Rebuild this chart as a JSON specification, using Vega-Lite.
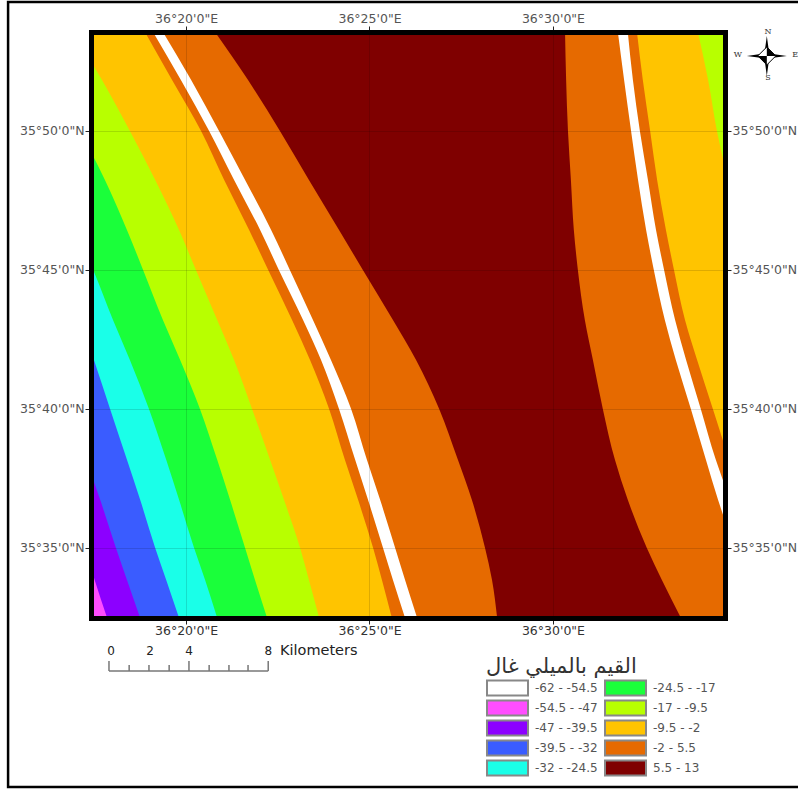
{"$schema":"https://vega.github.io/schema/vega-lite/v6.json","width":634,"height":586,"autosize":{"type":"none"},"padding":{"left":91,"top":32,"right":73,"bottom":171},"background":"white","config":{"view":{"stroke":null},"font":"DejaVu Sans"},
"datasets":{"bands":[
{"cls":"-54.5 - -47","seg":"a","lat":35,"lon":16},{"cls":"-54.5 - -47","seg":"a","lat":32.48,"lon":16},
{"cls":"-47 - -39.5","seg":"b","lat":38.17,"lon":16.46},{"cls":"-47 - -39.5","seg":"b","lat":36.73,"lon":16.81},{"cls":"-47 - -39.5","seg":"b","lat":35,"lon":17.25},{"cls":"-47 - -39.5","seg":"b","lat":33.85,"lon":17.51},{"cls":"-47 - -39.5","seg":"b","lat":32.48,"lon":17.85},
{"cls":"-39.5 - -32","seg":"c","lat":43.2,"lon":15.97},{"cls":"-39.5 - -32","seg":"c","lat":41.76,"lon":16.35},{"cls":"-39.5 - -32","seg":"c","lat":40,"lon":16.81},{"cls":"-39.5 - -32","seg":"c","lat":38.17,"lon":17.28},{"cls":"-39.5 - -32","seg":"c","lat":36.73,"lon":17.66},{"cls":"-39.5 - -32","seg":"c","lat":35,"lon":18.09},{"cls":"-39.5 - -32","seg":"c","lat":33.85,"lon":18.39},{"cls":"-39.5 - -32","seg":"c","lat":32.48,"lon":18.75},
{"cls":"-32 - -24.5","seg":"d","lat":46.44,"lon":16.27},{"cls":"-32 - -24.5","seg":"d","lat":45,"lon":16.65},{"cls":"-32 - -24.5","seg":"d","lat":43.2,"lon":17.11},{"cls":"-32 - -24.5","seg":"d","lat":41.76,"lon":17.49},{"cls":"-32 - -24.5","seg":"d","lat":40,"lon":17.93},{"cls":"-32 - -24.5","seg":"d","lat":38.17,"lon":18.39},{"cls":"-32 - -24.5","seg":"d","lat":36.73,"lon":18.75},{"cls":"-32 - -24.5","seg":"d","lat":35,"lon":19.16},{"cls":"-32 - -24.5","seg":"d","lat":33.85,"lon":19.46},{"cls":"-32 - -24.5","seg":"d","lat":32.48,"lon":19.81},
{"cls":"-24.5 - -17","seg":"e","lat":50,"lon":15.61},{"cls":"-24.5 - -17","seg":"e","lat":48.24,"lon":16.29},{"cls":"-24.5 - -17","seg":"e","lat":46.44,"lon":16.98},{"cls":"-24.5 - -17","seg":"e","lat":45,"lon":17.47},{"cls":"-24.5 - -17","seg":"e","lat":43.2,"lon":18.01},{"cls":"-24.5 - -17","seg":"e","lat":41.76,"lon":18.47},{"cls":"-24.5 - -17","seg":"e","lat":40,"lon":18.99},{"cls":"-24.5 - -17","seg":"e","lat":38.17,"lon":19.46},{"cls":"-24.5 - -17","seg":"e","lat":36.73,"lon":19.81},{"cls":"-24.5 - -17","seg":"e","lat":35,"lon":20.22},{"cls":"-24.5 - -17","seg":"e","lat":33.85,"lon":20.52},{"cls":"-24.5 - -17","seg":"e","lat":32.48,"lon":20.85},
{"cls":"-17 - -9.5","seg":"f","lat":53.56,"lon":15.61},{"cls":"-17 - -9.5","seg":"f","lat":51.83,"lon":16.35},{"cls":"-17 - -9.5","seg":"f","lat":50,"lon":17.11},{"cls":"-17 - -9.5","seg":"f","lat":48.24,"lon":17.79},{"cls":"-17 - -9.5","seg":"f","lat":46.44,"lon":18.39},{"cls":"-17 - -9.5","seg":"f","lat":45,"lon":18.83},{"cls":"-17 - -9.5","seg":"f","lat":43.2,"lon":19.37},{"cls":"-17 - -9.5","seg":"f","lat":41.76,"lon":19.84},{"cls":"-17 - -9.5","seg":"f","lat":40,"lon":20.38},{"cls":"-17 - -9.5","seg":"f","lat":38.17,"lon":20.85},{"cls":"-17 - -9.5","seg":"f","lat":36.73,"lon":21.2},{"cls":"-17 - -9.5","seg":"f","lat":35,"lon":21.61},{"cls":"-17 - -9.5","seg":"f","lat":33.85,"lon":21.88},{"cls":"-17 - -9.5","seg":"f","lat":32.48,"lon":22.21},
{"cls":"-9.5 - -2","seg":"g","lat":53.56,"lon":16.92},{"cls":"-9.5 - -2","seg":"g","lat":51.83,"lon":17.71},{"cls":"-9.5 - -2","seg":"g","lat":50,"lon":18.47},{"cls":"-9.5 - -2","seg":"g","lat":48.24,"lon":19.16},{"cls":"-9.5 - -2","seg":"g","lat":46.44,"lon":19.81},{"cls":"-9.5 - -2","seg":"g","lat":45,"lon":20.27},{"cls":"-9.5 - -2","seg":"g","lat":43.2,"lon":20.85},{"cls":"-9.5 - -2","seg":"g","lat":41.76,"lon":21.31},{"cls":"-9.5 - -2","seg":"g","lat":40,"lon":21.8},{"cls":"-9.5 - -2","seg":"g","lat":38.17,"lon":22.29},{"cls":"-9.5 - -2","seg":"g","lat":36.73,"lon":22.67},{"cls":"-9.5 - -2","seg":"g","lat":35,"lon":23.11},{"cls":"-9.5 - -2","seg":"g","lat":33.85,"lon":23.35},{"cls":"-9.5 - -2","seg":"g","lat":32.48,"lon":23.63},
{"cls":"-2 - 5.5","seg":"h","lat":53.56,"lon":18.88},{"cls":"-2 - 5.5","seg":"h","lat":51.83,"lon":19.62},{"cls":"-2 - 5.5","seg":"h","lat":50,"lon":20.41},{"cls":"-2 - 5.5","seg":"h","lat":48.24,"lon":21.04},{"cls":"-2 - 5.5","seg":"h","lat":46.44,"lon":21.72},{"cls":"-2 - 5.5","seg":"h","lat":45,"lon":22.24},{"cls":"-2 - 5.5","seg":"h","lat":43.2,"lon":22.89},{"cls":"-2 - 5.5","seg":"h","lat":41.76,"lon":23.38},{"cls":"-2 - 5.5","seg":"h","lat":40,"lon":23.9},{"cls":"-2 - 5.5","seg":"h","lat":38.17,"lon":24.33},{"cls":"-2 - 5.5","seg":"h","lat":36.73,"lon":24.69},{"cls":"-2 - 5.5","seg":"h","lat":35,"lon":25.1},{"cls":"-2 - 5.5","seg":"h","lat":33.85,"lon":25.34},{"cls":"-2 - 5.5","seg":"h","lat":32.48,"lon":25.61},
{"cls":"-62 - -54.5","seg":"i","lat":53.56,"lon":19.1},{"cls":"-62 - -54.5","seg":"i","lat":51.83,"lon":19.86},{"cls":"-62 - -54.5","seg":"i","lat":50,"lon":20.63},{"cls":"-62 - -54.5","seg":"i","lat":48.24,"lon":21.31},{"cls":"-62 - -54.5","seg":"i","lat":46.44,"lon":22.02},{"cls":"-62 - -54.5","seg":"i","lat":45,"lon":22.53},{"cls":"-62 - -54.5","seg":"i","lat":43.2,"lon":23.19},{"cls":"-62 - -54.5","seg":"i","lat":41.76,"lon":23.68},{"cls":"-62 - -54.5","seg":"i","lat":40,"lon":24.17},{"cls":"-62 - -54.5","seg":"i","lat":38.17,"lon":24.61},{"cls":"-62 - -54.5","seg":"i","lat":36.73,"lon":24.96},{"cls":"-62 - -54.5","seg":"i","lat":35,"lon":25.37},{"cls":"-62 - -54.5","seg":"i","lat":33.85,"lon":25.64},{"cls":"-62 - -54.5","seg":"i","lat":32.48,"lon":25.97},
{"cls":"-2 - 5.5","seg":"j","lat":53.56,"lon":19.37},{"cls":"-2 - 5.5","seg":"j","lat":51.83,"lon":20.14},{"cls":"-2 - 5.5","seg":"j","lat":50,"lon":20.9},{"cls":"-2 - 5.5","seg":"j","lat":48.24,"lon":21.61},{"cls":"-2 - 5.5","seg":"j","lat":46.44,"lon":22.32},{"cls":"-2 - 5.5","seg":"j","lat":45,"lon":22.83},{"cls":"-2 - 5.5","seg":"j","lat":43.2,"lon":23.46},{"cls":"-2 - 5.5","seg":"j","lat":41.76,"lon":23.95},{"cls":"-2 - 5.5","seg":"j","lat":40,"lon":24.5},{"cls":"-2 - 5.5","seg":"j","lat":38.17,"lon":24.93},{"cls":"-2 - 5.5","seg":"j","lat":36.73,"lon":25.29},{"cls":"-2 - 5.5","seg":"j","lat":35,"lon":25.7},{"cls":"-2 - 5.5","seg":"j","lat":33.85,"lon":25.97},{"cls":"-2 - 5.5","seg":"j","lat":32.48,"lon":26.3},
{"cls":"5.5 - 13","seg":"k","lat":53.56,"lon":20.79},{"cls":"5.5 - 13","seg":"k","lat":51.83,"lon":21.69},{"cls":"5.5 - 13","seg":"k","lat":50,"lon":22.56},{"cls":"5.5 - 13","seg":"k","lat":48.24,"lon":23.35},{"cls":"5.5 - 13","seg":"k","lat":46.44,"lon":24.17},{"cls":"5.5 - 13","seg":"k","lat":45,"lon":24.82},{"cls":"5.5 - 13","seg":"k","lat":43.2,"lon":25.64},{"cls":"5.5 - 13","seg":"k","lat":41.76,"lon":26.27},{"cls":"5.5 - 13","seg":"k","lat":40,"lon":26.9},{"cls":"5.5 - 13","seg":"k","lat":38.17,"lon":27.41},{"cls":"5.5 - 13","seg":"k","lat":36.73,"lon":27.79},{"cls":"5.5 - 13","seg":"k","lat":35,"lon":28.15},{"cls":"5.5 - 13","seg":"k","lat":33.85,"lon":28.34},{"cls":"5.5 - 13","seg":"k","lat":32.48,"lon":28.48},
{"cls":"-2 - 5.5","seg":"l","lat":53.56,"lon":30.33},{"cls":"-2 - 5.5","seg":"l","lat":51.83,"lon":30.36},{"cls":"-2 - 5.5","seg":"l","lat":50,"lon":30.41},{"cls":"-2 - 5.5","seg":"l","lat":48.24,"lon":30.49},{"cls":"-2 - 5.5","seg":"l","lat":46.44,"lon":30.57},{"cls":"-2 - 5.5","seg":"l","lat":45,"lon":30.68},{"cls":"-2 - 5.5","seg":"l","lat":43.2,"lon":30.87},{"cls":"-2 - 5.5","seg":"l","lat":41.76,"lon":31.09},{"cls":"-2 - 5.5","seg":"l","lat":40,"lon":31.36},{"cls":"-2 - 5.5","seg":"l","lat":38.17,"lon":31.69},{"cls":"-2 - 5.5","seg":"l","lat":36.73,"lon":32.04},{"cls":"-2 - 5.5","seg":"l","lat":35,"lon":32.56},{"cls":"-2 - 5.5","seg":"l","lat":33.85,"lon":32.97},{"cls":"-2 - 5.5","seg":"l","lat":32.48,"lon":33.49},
{"cls":"-62 - -54.5","seg":"m","lat":53.56,"lon":31.77},{"cls":"-62 - -54.5","seg":"m","lat":51.83,"lon":31.94},{"cls":"-62 - -54.5","seg":"m","lat":50,"lon":32.13},{"cls":"-62 - -54.5","seg":"m","lat":48.24,"lon":32.32},{"cls":"-62 - -54.5","seg":"m","lat":46.44,"lon":32.54},{"cls":"-62 - -54.5","seg":"m","lat":45,"lon":32.75},{"cls":"-62 - -54.5","seg":"m","lat":43.2,"lon":33.05},{"cls":"-62 - -54.5","seg":"m","lat":41.76,"lon":33.35},{"cls":"-62 - -54.5","seg":"m","lat":40,"lon":33.76},{"cls":"-62 - -54.5","seg":"m","lat":38.17,"lon":34.17},{"cls":"-62 - -54.5","seg":"m","lat":36.73,"lon":34.5},{"cls":"-62 - -54.5","seg":"m","lat":35,"lon":34.96},
{"cls":"-2 - 5.5","seg":"n","lat":53.56,"lon":32.04},{"cls":"-2 - 5.5","seg":"n","lat":51.83,"lon":32.18},{"cls":"-2 - 5.5","seg":"n","lat":50,"lon":32.37},{"cls":"-2 - 5.5","seg":"n","lat":48.24,"lon":32.59},{"cls":"-2 - 5.5","seg":"n","lat":46.44,"lon":32.81},{"cls":"-2 - 5.5","seg":"n","lat":45,"lon":33.03},{"cls":"-2 - 5.5","seg":"n","lat":43.2,"lon":33.33},{"cls":"-2 - 5.5","seg":"n","lat":41.76,"lon":33.63},{"cls":"-2 - 5.5","seg":"n","lat":40,"lon":34.03},{"cls":"-2 - 5.5","seg":"n","lat":38.17,"lon":34.44},{"cls":"-2 - 5.5","seg":"n","lat":36.73,"lon":34.83},
{"cls":"-9.5 - -2","seg":"o","lat":53.56,"lon":32.29},{"cls":"-9.5 - -2","seg":"o","lat":51.83,"lon":32.45},{"cls":"-9.5 - -2","seg":"o","lat":50,"lon":32.65},{"cls":"-9.5 - -2","seg":"o","lat":48.24,"lon":32.84},{"cls":"-9.5 - -2","seg":"o","lat":46.44,"lon":33.08},{"cls":"-9.5 - -2","seg":"o","lat":45,"lon":33.3},{"cls":"-9.5 - -2","seg":"o","lat":43.2,"lon":33.6},{"cls":"-9.5 - -2","seg":"o","lat":41.76,"lon":33.93},{"cls":"-9.5 - -2","seg":"o","lat":40,"lon":34.36},{"cls":"-9.5 - -2","seg":"o","lat":38.17,"lon":34.8},
{"cls":"-17 - -9.5","seg":"p","lat":53.56,"lon":33.95},{"cls":"-17 - -9.5","seg":"p","lat":51.83,"lon":34.23},{"cls":"-17 - -9.5","seg":"p","lat":50,"lon":34.47},{"cls":"-17 - -9.5","seg":"p","lat":48.24,"lon":34.77}
],
"ticks":[{"lon":20,"lat":40}],
"scaleLine":[{"lon":17.9,"lon2":22.24,"lat":30.57}],
"scaleTicks":[{"lon":17.9,"top":30.93},{"lon":18.45,"top":30.79},{"lon":18.99,"top":30.79},{"lon":19.54,"top":30.79},{"lon":20.08,"top":30.93},{"lon":20.63,"top":30.79},{"lon":21.17,"top":30.79},{"lon":21.69,"top":30.79},{"lon":22.24,"top":30.93}],
"scaleText":[{"lon":17.96,"lat":31.29,"t":"0"},{"lon":19.02,"lat":31.29,"t":"2"},{"lon":20.08,"lat":31.29,"t":"4"},{"lon":22.24,"lat":31.29,"t":"8"}],
"compassText":[{"lon":35.86,"lat":53.56,"t":"N"},{"lon":35.86,"lat":51.9,"t":"S"},{"lon":35.04,"lat":52.73,"t":"W"},{"lon":36.6,"lat":52.73,"t":"E"}]
},
"layer":[
{"data":{"name":"bands"},"mark":{"type":"area","orient":"horizontal","clip":true,"interpolate":"monotone","opacity":1},
"encoding":{
"y":{"field":"lat","type":"quantitative","scale":{"domain":[32.48,53.56],"nice":false,"zero":false},"title":null,"axis":{"orient":"left","values":[35,40,45,50],"labelExpr":"'35°'+datum.value+\"'0\\\"N\"","grid":true,"gridColor":"#000","gridOpacity":0.13,"domain":true,"domainColor":"#000","domainWidth":5,"domainCap":"square","ticks":true,"tickColor":"#222","tickSize":6,"labelFont":"DejaVu Sans","labelFontSize":12.5,"labelColor":"#555","labelPadding":1,"zindex":1}},
"x":{"field":"lon","type":"quantitative","scale":{"domain":[17.41,34.69],"nice":false,"zero":false},"title":null,"axis":{"orient":"bottom","values":[20,25,30],"labelExpr":"'36°'+datum.value+\"'0\\\"E\"","grid":true,"gridColor":"#000","gridOpacity":0.13,"domain":true,"domainColor":"#000","domainWidth":5,"domainCap":"square","ticks":true,"tickColor":"#222","tickSize":6,"labelFont":"DejaVu Sans","labelFontSize":12.5,"labelColor":"#333","labelPadding":0,"zindex":1}},
"x2":{"datum":37},
"detail":{"field":"seg"},
"color":{"field":"cls","type":"nominal","scale":{"domain":["-62 - -54.5","-54.5 - -47","-47 - -39.5","-39.5 - -32","-32 - -24.5","-24.5 - -17","-17 - -9.5","-9.5 - -2","-2 - 5.5","5.5 - 13"],"range":["#ffffff","#ff4dff","#8c00ff","#3a5cff","#1affe8","#1aff3a","#b8ff00","#ffc400","#e66a00","#7f0000"]},
"legend":{"orient":"none","legendX":395,"legendY":624,"direction":"vertical","columns":2,"title":"القيم بالميلي غال","titleFont":"DejaVu Sans","titleFontSize":21,"titleFontWeight":"normal","titleColor":"#333","titleAnchor":"start","titlePadding":1,"symbolType":"M-1,-0.37H1V0.37H-1Z","symbolSize":1681,"clipHeight":20,"symbolStrokeColor":"#888","symbolStrokeWidth":2,"symbolOpacity":1,"labelFont":"DejaVu Sans","labelFontSize":12,"labelColor":"#555","labelOffset":6,"columnPadding":6,"rowPadding":0,"labelLimit":90}}
}},
{"data":{"name":"ticks"},"mark":{"type":"point","opacity":0},
"encoding":{
"x":{"field":"lon","type":"quantitative","scale":{"domain":[17.41,34.69],"nice":false,"zero":false},"title":null,"axis":{"orient":"top","values":[20,25,30],"labelExpr":"'36°'+datum.value+\"'0\\\"E\"","grid":false,"domain":true,"domainColor":"#000","domainWidth":5,"domainCap":"square","tickColor":"#222","tickSize":6,"labelFont":"DejaVu Sans","labelFontSize":12.5,"labelColor":"#555","labelPadding":1,"zindex":1}},
"y":{"field":"lat","type":"quantitative","scale":{"domain":[32.48,53.56],"nice":false,"zero":false},"title":null,"axis":{"orient":"right","values":[35,40,45,50],"labelExpr":"'35°'+datum.value+\"'0\\\"N\"","grid":false,"domain":true,"domainColor":"#000","domainWidth":5,"domainCap":"square","tickColor":"#222","tickSize":6,"labelFont":"DejaVu Sans","labelFontSize":12.5,"labelColor":"#555","labelPadding":1,"zindex":1}}
}},
{"data":{"values":[{"x":15.15,"x2":37,"y":54.64,"y2":26.4}]},"mark":{"type":"rect","fill":null,"fillOpacity":0,"stroke":"#000","strokeWidth":2.5},
"encoding":{"x":{"field":"x","type":"quantitative","axis":null,"scale":{"domain":[17.41,34.69],"nice":false,"zero":false}},"x2":{"field":"x2"},"y":{"field":"y","type":"quantitative","axis":null,"scale":{"domain":[32.48,53.56],"nice":false,"zero":false}},"y2":{"field":"y2"}}},
{"data":{"name":"scaleLine"},"mark":{"type":"rule","color":"#777","strokeWidth":1.5},
"encoding":{"x":{"field":"lon","type":"quantitative","axis":null},"x2":{"field":"lon2"},"y":{"field":"lat","type":"quantitative","axis":null}}},
{"data":{"name":"scaleTicks"},"mark":{"type":"rule","color":"#777","strokeWidth":1.5},
"encoding":{"x":{"field":"lon","type":"quantitative","axis":null},"y":{"field":"top","type":"quantitative","axis":null},"y2":{"datum":30.57}}},
{"data":{"name":"scaleText"},"mark":{"type":"text","font":"DejaVu Sans","fontSize":12,"color":"#222"},
"encoding":{"x":{"field":"lon","type":"quantitative","axis":null},"y":{"field":"lat","type":"quantitative","axis":null},"text":{"field":"t"}}},
{"data":{"values":[{"lon":22.56,"lat":31.29,"t":"Kilometers"}]},"mark":{"type":"text","font":"DejaVu Sans","fontSize":14.5,"color":"#222","align":"left"},
"encoding":{"x":{"field":"lon","type":"quantitative","axis":null},"y":{"field":"lat","type":"quantitative","axis":null},"text":{"field":"t"}}},
{"data":{"values":[{"lon":35.83,"lat":52.7}]},"mark":{"type":"point","filled":true,"color":"#000","opacity":1,"shape":"M0,-1 L0.12,-0.12 L1,0 L0.12,0.12 L0,1 L-0.12,0.12 L-1,0 L-0.12,-0.12 Z","size":1600,"strokeWidth":0},
"encoding":{"x":{"field":"lon","type":"quantitative","axis":null},"y":{"field":"lat","type":"quantitative","axis":null}}},
{"data":{"values":[{"lon":35.83,"lat":52.7}]},"mark":{"type":"point","filled":true,"fill":"#fff","stroke":"#000","strokeWidth":1,"opacity":1,"shape":"M0,-1L1,0L0,1L-1,0Z","size":324},
"encoding":{"x":{"field":"lon","type":"quantitative","axis":null},"y":{"field":"lat","type":"quantitative","axis":null}}},
{"data":{"values":[{"lon":35.83,"lat":52.7}]},"mark":{"type":"point","filled":true,"color":"#000","opacity":1,"shape":"M0,0L0,-1L1,0Z M0,0L0,1L-1,0Z","size":324,"strokeWidth":0},
"encoding":{"x":{"field":"lon","type":"quantitative","axis":null},"y":{"field":"lat","type":"quantitative","axis":null}}},
{"data":{"name":"compassText"},"mark":{"type":"text","font":"DejaVu Serif","fontSize":8,"color":"#333"},
"encoding":{"x":{"field":"lon","type":"quantitative","axis":null},"y":{"field":"lat","type":"quantitative","axis":null},"text":{"field":"t"}}}
],
"resolve":{"axis":{"x":"independent","y":"independent"}}}
